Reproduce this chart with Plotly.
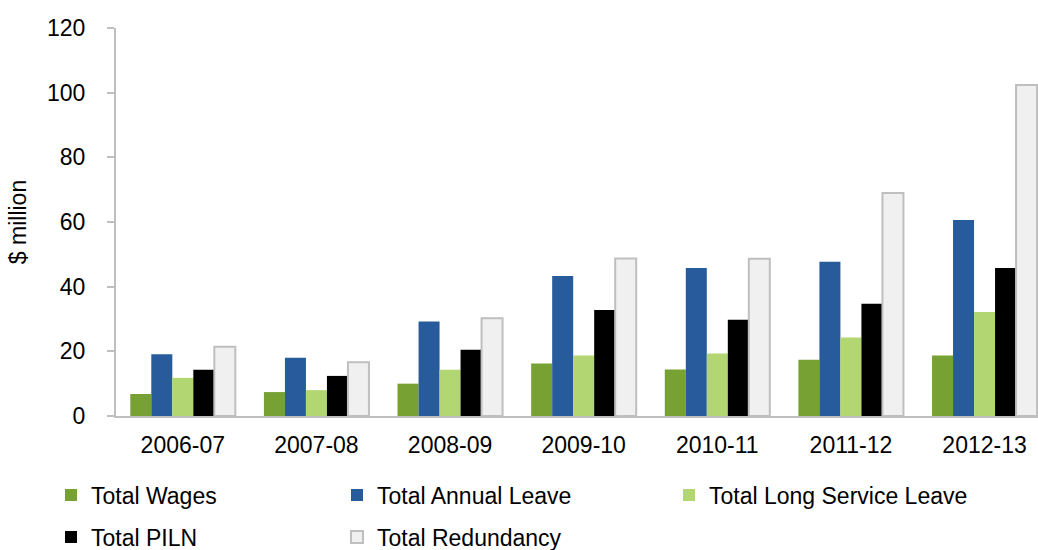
import plotly.graph_objects as go

# Financial years on the category axis
years = ["2006-07", "2007-08", "2008-09", "2009-10", "2010-11", "2011-12", "2012-13"]

# Entitlement payments, $ million
total_wages = [6.8, 7.4, 10.0, 16.2, 14.4, 17.4, 18.7]
total_annual_leave = [19.1, 18.0, 29.2, 43.3, 45.8, 47.7, 60.6]
total_long_service_leave = [11.8, 8.0, 14.3, 18.7, 19.3, 24.3, 32.2]
total_piln = [14.3, 12.4, 20.5, 32.8, 29.8, 34.7, 45.8]
total_redundancy = [21.4, 16.6, 30.2, 48.7, 48.6, 69.0, 102.4]

y_ticks = [0, 20, 40, 60, 80, 100, 120]

FONT = "Liberation Sans, Arial, sans-serif"
W, H = 1038, 550
FS = 23

series = [
    ("Total Wages", total_wages, "#77A132", None, "legend", 71, 495),
    ("Total Annual Leave", total_annual_leave, "#275B9B", None, "legend2", 357, 495),
    ("Total Long Service Leave", total_long_service_leave, "#B2D672", None, "legend3", 689, 495),
    ("Total PILN", total_piln, "#000000", None, "legend4", 71, 537),
    ("Total Redundancy", total_redundancy, "#F0F0F0", "#BFBFBF", "legend5", 357, 537),
]

fig = go.Figure()
legend_layouts = {}
for name, vals, color, line, leg, lx, ly in series:
    fig.add_trace(go.Bar(
        x=years, y=vals, name=name,
        marker=dict(color=color,
                    line=dict(color=line if line else color, width=2 if line else 0)),
        legend=leg,
    ))
    legend_layouts[leg] = dict(
        xref="container", yref="container",
        x=(lx - 20) / W, y=1 - ly / H,
        xanchor="left", yanchor="middle",
        orientation="h", bgcolor="rgba(0,0,0,0)",
        font=dict(family=FONT, size=FS, color="#000000"),
        itemclick=False, itemdoubleclick=False,
    )

fig.update_layout(
    width=W, height=H,
    margin=dict(l=116, r=0, t=28, b=134),
    paper_bgcolor="white", plot_bgcolor="white",
    barmode="group", bargap=0.214, bargroupgap=0,
    font=dict(family=FONT, size=FS, color="#000000"),
    showlegend=True,
    **legend_layouts,
)

fig.update_xaxes(
    type="category", range=[-0.5, 6.40],
    showline=True, linecolor="#BFBFBF", linewidth=2,
    ticks="", showgrid=False, zeroline=False,
    tickfont=dict(family=FONT, size=FS, color="#000000"),
    ticklabelstandoff=7,
)

fig.update_yaxes(
    range=[0, 120], tickvals=y_ticks,
    showline=True, linecolor="#BFBFBF", linewidth=2,
    ticks="outside", ticklen=7, tickcolor="#BFBFBF", tickwidth=2,
    showgrid=False, zeroline=False,
    tickfont=dict(family=FONT, size=FS, color="#000000"),
    ticklabelstandoff=17,
    title=dict(text="$ million", font=dict(family=FONT, size=FS, color="#000000"),
               standoff=14),
)

fig.write_html("out.html")
